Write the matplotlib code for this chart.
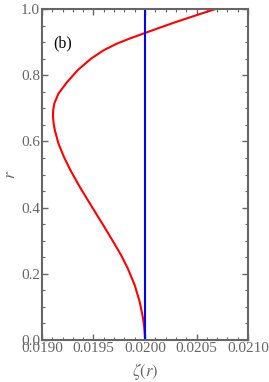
import matplotlib
matplotlib.use("Agg")
import matplotlib.pyplot as plt
from matplotlib.ticker import MultipleLocator

# values
r_vals = [0.000, 0.010, 0.040, 0.066, 0.116, 0.166, 0.217, 0.257, 0.297,
          0.347, 0.408, 0.453, 0.473, 0.514, 0.554, 0.594, 0.634, 0.655,
          0.675, 0.695, 0.715, 0.745, 0.780, 0.816, 0.851, 0.876, 0.896,
          0.911, 0.928, 0.945, 0.961, 0.986, 1.000]
zeta_vals = [0.020000, 0.019999, 0.019992, 0.019981, 0.019948, 0.019900,
             0.019832, 0.019767, 0.019692, 0.019595, 0.019474, 0.019386,
             0.019348, 0.019275, 0.019212, 0.019160, 0.019125, 0.019113,
             0.019107, 0.019109, 0.019120, 0.019160, 0.019245, 0.019348,
             0.019479, 0.019600, 0.019728, 0.019850, 0.020000, 0.020152,
             0.020298, 0.020540, 0.020680]
zeta_const = 0.0200

x_ticks = [0.0190, 0.0195, 0.0200, 0.0205, 0.0210]
x_labels = ["0.0190", "0.0195", "0.0200", "0.0205", "0.0210"]
y_ticks = [0.0, 0.2, 0.4, 0.6, 0.8, 1.0]
y_labels = ["0.0", "0.2", "0.4", "0.6", "0.8", "1.0"]

gray = "#666666"
plt.rcParams["font.family"] = ["Liberation Serif", "DejaVu Serif"]
plt.rcParams["mathtext.fontset"] = "stix"

fig = plt.figure(figsize=(2.69, 3.82), dpi=100)
ax = fig.add_axes([0.156, 0.110, 0.766, 0.866])

ax.plot(zeta_vals, r_vals, color="red", lw=1.5, solid_joinstyle="round")
ax.plot([zeta_const, zeta_const], [0, 1], color="blue", lw=1.5)

ax.set_xlim(0.0190, 0.0210)
ax.set_ylim(0.0, 1.0)
ax.xaxis.set_minor_locator(MultipleLocator(0.0001))
ax.yaxis.set_minor_locator(MultipleLocator(0.05))
ax.set_xticks(x_ticks)
ax.set_xticklabels(x_labels)
ax.set_yticks(y_ticks)
ax.set_yticklabels(y_labels)

ax.tick_params(which="both", direction="in", top=True, right=True,
               color=gray, labelcolor=gray, labelsize=11, pad=1.5)
ax.tick_params(which="major", length=4, width=1)
ax.tick_params(which="minor", length=2, width=0.8)
for s in ax.spines.values():
    s.set_color(gray)
    s.set_linewidth(1.5)

ax.set_xlabel(r"$\zeta(r)$", color=gray, fontsize=12, labelpad=4)
ax.set_ylabel(r"$r$", color=gray, fontsize=12, labelpad=1)
ax.text(0.055, 0.885, "(b)", transform=ax.transAxes, fontsize=11.5, color="black")

fig.savefig("out.png", dpi=100)
